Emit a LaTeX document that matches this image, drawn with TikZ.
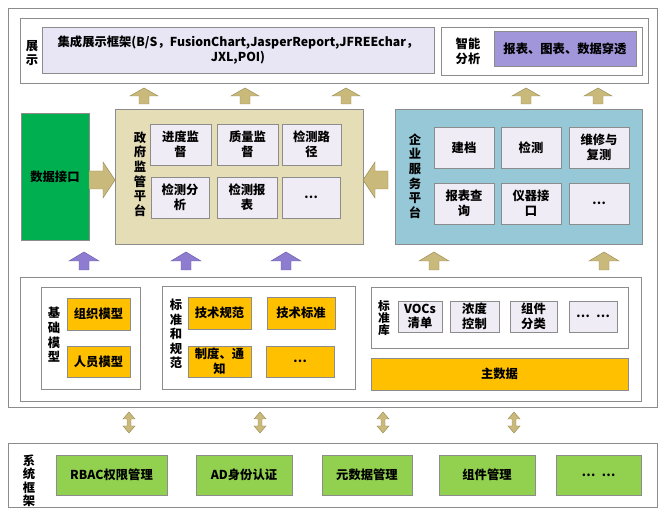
\documentclass[tikz,border=0pt]{standalone}
\usepackage{fontspec}
\newfontfamily\cjk{Noto Sans CJK SC}
\usetikzlibrary{fit}
\definecolor{linegray}{HTML}{8C8C8C}
\definecolor{lavender}{HTML}{F0ECF5}
\definecolor{paleblue}{HTML}{E8E6F5}
\definecolor{violet}{HTML}{A296DA}
\definecolor{govtan}{HTML}{E5DDB6}
\definecolor{entblue}{HTML}{96C8D8}
\definecolor{darkgreen}{HTML}{00B050}
\definecolor{lightgreen}{HTML}{92D050}
\definecolor{amber}{HTML}{FFC000}
\definecolor{arrowtan}{HTML}{C9B97A}
\definecolor{arrowtanline}{HTML}{9A8C58}
\definecolor{arrowpurple}{HTML}{8E7CD0}
\definecolor{arrowpurpleline}{HTML}{6C5CAA}
\begin{document}
\begin{tikzpicture}[x=0.03cm, y=-0.03cm,
  every node/.style={font=\cjk\bfseries\fontsize{10.5}{12.5}\selectfont, align=center, inner sep=0pt},
  frame/.style={draw=linegray, fill=white, line width=0.8pt},
  cell/.style={draw=linegray, fill=lavender, line width=0.8pt},
  gold/.style={draw=linegray, fill=amber, line width=0.8pt},
  leaf/.style={draw=linegray, fill=lightgreen, line width=0.8pt},
  tanarrow/.style={fill=arrowtan, draw=arrowtanline, line width=0.4pt},
  purplearrow/.style={fill=arrowpurple, draw=arrowpurpleline, line width=0.4pt}]
\useasboundingbox (0,0) rectangle (665,516);
% outer frame
\node [frame, fit={(8,8) (657,407)}] (outer) {};
% display layer
\node [frame, fit={(20,18) (648,83)}] (show) {};
\node at (32,53) (showlbl) {展\\示};
\node [cell, fill=paleblue, fit={(42,27) (434,73)}] (frameworks) {};
\node at (frameworks) {集成展示框架(B/S，FusionChart,JasperReport,JFREEchar，\\JXL,POI)};
\node [frame, fit={(441,27) (642,75)}] (smart) {};
\node at (468,51) (smartlbl) {智能\\分析};
\node [cell, fill=violet, fit={(494,31) (636,66)}] (drill) {};
\node at (drill) {报表、图表、数据穿透};
\foreach \x in {144,245,346,526,598}
  \draw [tanarrow] (\x,88) -- ++(14,8) -- ++(-9,0) -- ++(0,8) -- ++(-10,0) -- ++(0,-8) -- ++(-9,0) -- cycle;
% platforms
\node [draw=linegray, fill=darkgreen, line width=0.8pt, fit={(21,113) (89,240)}] (iface) {};
\node at (iface) {数据接口};
\draw [tanarrow] (115,180) -- ++(-12,-18) -- ++(0,9) -- ++(-14,0) -- ++(0,18) -- ++(14,0) -- ++(0,9) -- cycle;
\node [draw=linegray, fill=govtan, line width=0.8pt, fit={(115,109) (363,244)}] (gov) {};
\node at (140,174) (govlbl) {政\\府\\监\\管\\平\\台};
\node [cell, fit={(150,124) (211,165)}] (progress) {};
\node at (progress) {进度监\\督};
\node [cell, fit={(217,124) (278,165)}] (quality) {};
\node at (quality) {质量监\\督};
\node [cell, fit={(282,124) (341,165)}] (route) {};
\node at (route) {检测路\\径};
\node [cell, fit={(151,177) (209,218)}] (analysis) {};
\node at (analysis) {检测分\\析};
\node [cell, fit={(217,177) (277,218)}] (report) {};
\node at (report) {检测报\\表};
\node [cell, fit={(282,177) (340,218)}] (govmore) {};
\node at (govmore) {…};
\draw [tanarrow] (363,180) -- ++(12,-18) -- ++(0,9) -- ++(13,0) -- ++(0,18) -- ++(-13,0) -- ++(0,9) -- cycle;
\node [draw=linegray, fill=entblue, line width=0.8pt, fit={(395,109) (642,244)}] (ent) {};
\node at (415,176) (entlbl) {企\\业\\服\\务\\平\\台};
\node [cell, fit={(434,127) (494,168)}] (archive) {};
\node at (archive) {建档};
\node [cell, fit={(501,127) (561,168)}] (inspect) {};
\node at (inspect) {检测};
\node [cell, fit={(569,127) (629,168)}] (repair) {};
\node at (repair) {维修与\\复测};
\node [cell, fit={(434,183) (494,224)}] (query) {};
\node at (query) {报表查\\询};
\node [cell, fit={(501,183) (561,224)}] (device) {};
\node at (device) {仪器接\\口};
\node [cell, fit={(569,183) (629,224)}] (entmore) {};
\node at (entmore) {…};
\foreach \x in {84,186,286}
  \draw [purplearrow] (\x,252) -- ++(15,9) -- ++(-10,0) -- ++(0,9) -- ++(-10,0) -- ++(0,-9) -- ++(-10,0) -- cycle;
\foreach \x in {434,604}
  \draw [tanarrow] (\x,252) -- ++(15,9) -- ++(-10,0) -- ++(0,9) -- ++(-10,0) -- ++(0,-9) -- ++(-10,0) -- cycle;
% data layer
\node [frame, fit={(20,277) (641,401)}] (data) {};
\node [frame, fit={(41,287) (140,389)}] (base) {};
\node at (54,335) (baselbl) {基\\础\\模\\型};
\node [gold, fit={(67,298) (130,330)}] (org) {};
\node at (org) {组织模型};
\node [gold, fit={(67,346) (130,377)}] (staff) {};
\node at (staff) {人员模型};
\node [frame, fit={(162,286) (355,389)}] (norm) {};
\node at (176,334) (normlbl) {标\\准\\和\\规\\范};
\node [gold, fit={(188,297) (251,329)}] (spec) {};
\node at (spec) {技术规范};
\node [gold, fit={(267,297) (335,329)}] (std) {};
\node at (std) {技术标准};
\node [gold, fit={(188,346) (251,377)}] (rule) {};
\node at (rule) {制度、通\\知};
\node [gold, fit={(266,346) (334,377)}] (normmore) {};
\node at (normmore) {…};
\node [frame, fit={(371,287) (628,348)}] (lib) {};
\node [font=\cjk\bfseries\fontsize{10}{10}\selectfont] at (384,318) (liblbl) {标\\准\\库};
\node [cell, fit={(398,301) (442,332)}] (vocs) {};
\node at (vocs) {VOCs\\清单};
\node [cell, fit={(450,301) (499,332)}] (conc) {};
\node at (conc) {浓度\\控制};
\node [cell, fit={(510,301) (557,332)}] (part) {};
\node at (part) {组件\\分类};
\node [cell, fit={(569,301) (617,332)}] (libmore) {};
\node at (libmore) {…\enspace…};
\node [gold, fit={(371,358) (628,390)}] (master) {};
\node at (master) {主数据};
\foreach \x in {129,260,383,514}
  \draw [tanarrow] (\x,412) -- ++(6,7) -- ++(-4,0) -- ++(0,7) -- ++(4,0) -- ++(-6,7) -- ++(-6,-7) -- ++(4,0) -- ++(0,-7) -- ++(-4,0) -- cycle;
% system framework
\node [frame, fit={(8,443) (657,507)}] (sys) {};
\node [font=\cjk\bfseries\fontsize{10.5}{11.5}\selectfont] at (29,481) (syslbl) {系\\统\\框\\架};
\node [leaf, fit={(56,455) (167,495)}] (rbac) {};
\node at (rbac) {RBAC权限管理};
\node [leaf, fit={(196,455) (292,495)}] (ad) {};
\node at (ad) {AD身份认证};
\node [leaf, fit={(322,455) (412,495)}] (meta) {};
\node at (meta) {元数据管理};
\node [leaf, fit={(439,455) (535,495)}] (comp) {};
\node at (comp) {组件管理};
\node [leaf, fit={(556,455) (641,495)}] (sysmore) {};
\node at (sysmore) {…\enspace…};
\end{tikzpicture}
\end{document}
